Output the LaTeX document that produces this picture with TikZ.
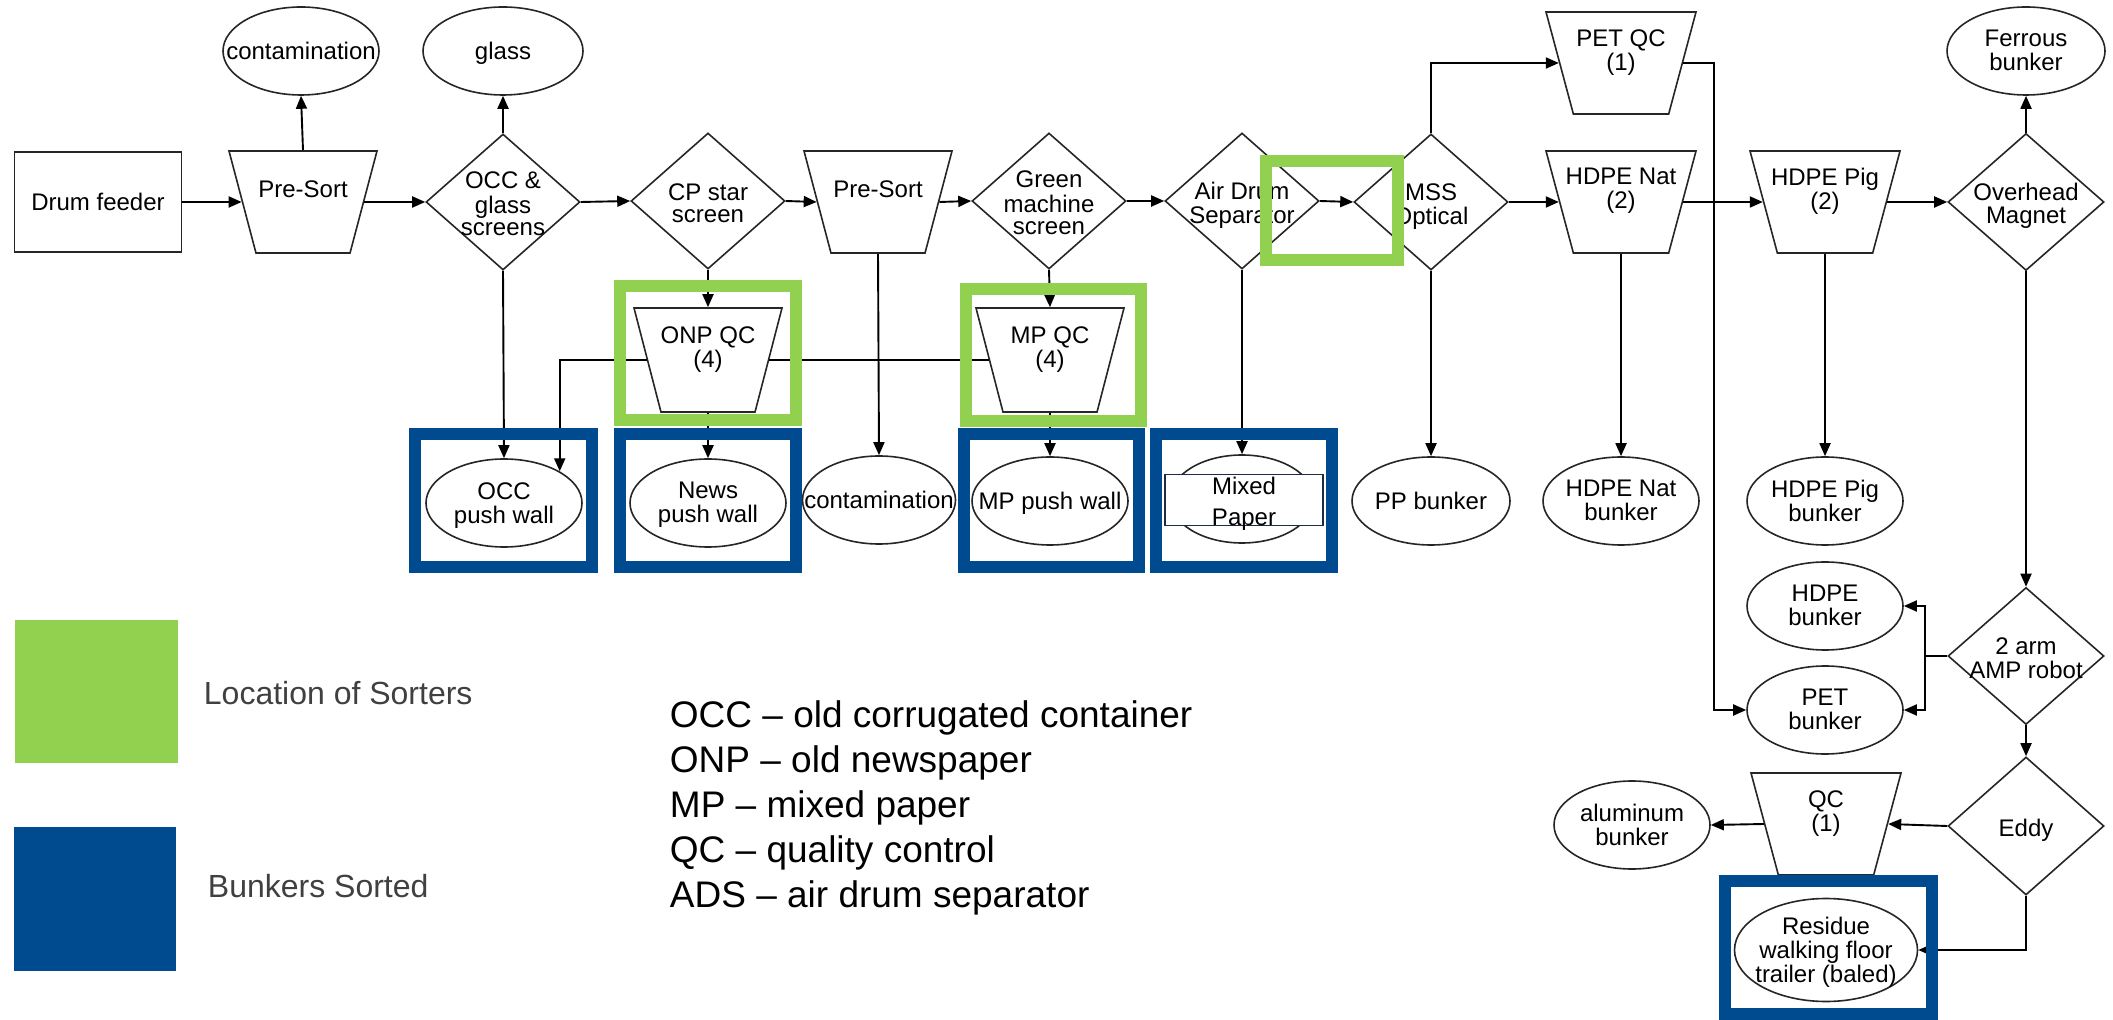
\documentclass[tikz,border=0pt]{standalone}
\usepackage{fontspec}
\setmainfont{Liberation Sans}
\usetikzlibrary{shapes.geometric, arrows.meta}
\definecolor{sortgreen}{HTML}{92D050}
\definecolor{bunkblue}{HTML}{004A90}
\definecolor{tagnavy}{HTML}{1F2A44}
\definecolor{inkgrey}{HTML}{404040}
\newcommand{\stacktext}[2][-4.5pt]{\makebox[0pt]{\raisebox{#1}[0pt][0pt]{\begin{tabular}{@{}c@{}}#2\end{tabular}}}}
\renewcommand{\arraystretch}{0.85}
\tikzset{
  >={Triangle[length=6.5pt,width=5.5pt]},
  every node/.style={font=\fontsize{12}{13}\selectfont, inner sep=0pt},
  base/.style={draw=black!85, line width=0.8pt, fill=white},
  feeder/.style={base, rectangle, minimum width=83.5pt, minimum height=50pt},
  hopper/.style={base, trapezium, trapezium left angle=74, trapezium right angle=74, inner sep=1pt,
    shape border rotate=180, trapezium stretches=true, minimum width=74pt, minimum height=51pt},
  screen/.style={base, diamond, minimum width=77pt, minimum height=68pt},
  bunker/.style={base, ellipse, minimum width=78pt, minimum height=44pt},
  sorters/.style={draw=sortgreen, line width=6pt, arrows=-},
  sorted/.style={draw=bunkblue, line width=6pt, arrows=-},
}

\begin{document}
\begin{tikzpicture}[x=0.5pt, y=-0.5pt, ->, line width=0.95pt]
  \useasboundingbox (0,0) rectangle (2113,1020);

  % main line
  \node[feeder] (feeder) at (98,202) {\stacktext{Drum feeder}};
  \node[hopper] (presortA) at (303,202) {\stacktext[2pt]{Pre-Sort}};
  \node[bunker] (contamA) at (301,51) {\stacktext{contamination}};
  \node[screen] (occ) at (503,202) {\stacktext[-5.5pt]{OCC \&\\glass\\screens}};
  \node[bunker, minimum width=80pt] (glass) at (503,51) {\stacktext{glass}};
  \node[screen] (cpstar) at (708,201) {\stacktext[-5.5pt]{CP star\\screen}};
  \node[hopper] (presortB) at (878,202) {\stacktext[2pt]{Pre-Sort}};
  \node[screen] (greenmc) at (1049,201) {\stacktext[-5.5pt]{Green\\machine\\screen}};
  \node[screen] (airdrum) at (1242,201) {\stacktext[-5.5pt]{Air Drum\\Separator}};
  \node[screen] (mss) at (1431,202) {\stacktext[-5.5pt]{MSS\\Optical}};
  \node[hopper, minimum width=75pt] (petqc) at (1621,63) {\stacktext[2pt]{PET QC\\(1)}};
  \node[hopper, minimum width=75pt] (hdpenat) at (1621,202) {\stacktext[2pt]{HDPE Nat\\(2)}};
  \node[hopper, minimum width=75pt] (hdpepig) at (1825,202) {\stacktext[2pt]{HDPE Pig\\(2)}};
  \node[screen, minimum width=78pt, minimum height=68.5pt] (magnet) at (2026,202) {\stacktext[-5.5pt]{Overhead\\Magnet}};
  \node[bunker, minimum width=79pt] (ferrous) at (2026,51) {\stacktext{Ferrous\\bunker}};

  % quality control
  \node[hopper, minimum height=52pt] (onpqc) at (708,360) {\stacktext[2pt]{ONP QC\\(4)}};
  \node[hopper, minimum height=52pt] (mpqc) at (1050,360) {\stacktext[2pt]{MP QC\\(4)}};

  % bunkers
  \node[bunker] (occwall) at (504,503) {\stacktext{OCC\\push wall}};
  \node[bunker] (newswall) at (708,503) {\stacktext{News\\push wall}};
  \node[bunker, minimum width=76.5pt] (contamB) at (879,500) {\stacktext{contamination}};
  \node[bunker] (mpwall) at (1050,501) {\stacktext{MP push wall}};
  \node[bunker, minimum width=72pt] (mixed) at (1242,499) {};
  \node[draw=tagnavy, line width=0.9pt, fill=white, minimum width=79pt, minimum height=25.5pt]
    (mixedtag) at (1244,500) {\stacktext[-5.5pt]{Mixed\\[4pt]Paper}};
  \node[bunker, minimum width=79pt] (ppb) at (1431,501) {\stacktext{PP bunker}};
  \node[bunker] (natb) at (1621,501) {\stacktext{HDPE Nat\\bunker}};
  \node[bunker] (pigb) at (1825,501) {\stacktext{HDPE Pig\\bunker}};
  \node[bunker] (hdpeb) at (1825,606) {\stacktext{HDPE\\bunker}};
  \node[bunker] (petb) at (1825,710) {\stacktext{PET\\bunker}};

  % metals and residue
  \node[screen, minimum width=78pt, minimum height=68.5pt] (robot) at (2026,656) {\stacktext[-5.5pt]{2 arm\\AMP robot}};
  \node[screen, minimum width=78pt, minimum height=69pt] (eddy) at (2026,826) {\stacktext[-5.5pt]{Eddy}};
  \node[hopper, minimum width=75pt] (qc) at (1826,824) {\stacktext[2pt]{QC\\(1)}};
  \node[bunker] (alu) at (1632,825) {\stacktext{aluminum\\bunker}};
  \node[bunker, minimum width=91.5pt, minimum height=51.5pt] (residue) at (1826,950)
    {\stacktext{Residue\\walking floor\\trailer (baled)}};

  \coordinate (petdrop) at (1714,710);
  \coordinate (rfork) at (1925,656);

  % flow
  \draw (feeder.east) -- (presortA.west);
  \draw (presortA.north) -- (contamA.south);
  \draw (presortA.east) -- (occ.west);
  \draw (occ.north) -- (glass.south);
  \draw (occ.east) -- (cpstar.west);
  \draw (cpstar.east) -- (presortB.west);
  \draw (presortB.east) -- (greenmc.west);
  \draw (greenmc.east) -- (airdrum.west);
  \draw (airdrum.east) -- (mss.west);
  \draw (mss.north) |- (petqc.west);
  \draw (mss.east) -- (hdpenat.west);
  \draw (hdpenat.east) -- (hdpepig.west);
  \draw (hdpepig.east) -- (magnet.west);
  \draw (magnet.north) -- (ferrous.south);

  \draw (occ.south) -- (occwall.north);
  \draw (cpstar.south) -- (onpqc.north);
  \draw (onpqc.south) -- (newswall.north);
  \draw (presortB.south) -- (contamB.north);
  \draw (greenmc.south) -- (mpqc.north);
  \draw (mpqc.south) -- (mpwall.north);
  \draw[-] (mpqc.west) -- (onpqc.east);
  \draw (onpqc.west) -| (occwall.north east);
  \draw (airdrum.south) -- (mixed.north);
  \draw (mss.south) -- (ppb.north);
  \draw (hdpenat.south) -- (natb.north);
  \draw (hdpepig.south) -- (pigb.north);
  \draw (petqc.east) -| (petdrop) -- (petb.west);

  \draw (magnet.south) -- (robot.north);
  \draw[-] (robot.west) -- (rfork);
  \draw (rfork) |- (hdpeb.east);
  \draw (rfork) |- (petb.east);
  \draw (robot.south) -- (eddy.north);
  \draw (eddy.west) -- (qc.east);
  \draw (qc.west) -- (alu.east);
  \draw (eddy.south) |- (residue.east);

  % sorter and bunker frames
  \draw[sorters] (620,286) rectangle (796,420);
  \draw[sorters] (966,289) rectangle (1141,421);
  \draw[sorters] (1266,161) rectangle (1398,260);
  \draw[sorted] (415,434) rectangle (592,567);
  \draw[sorted] (620,434) rectangle (796,567);
  \draw[sorted] (964,434) rectangle (1139,567);
  \draw[sorted] (1156,434) rectangle (1332,567);
  \draw[sorted] (1725,881) rectangle (1932,1014);

  % legend
  \fill[sortgreen] (15,620) rectangle (178,763);
  \fill[bunkblue] (14,827) rectangle (176,971);
  \node[anchor=west, text=inkgrey, font=\fontsize{16}{19}\selectfont] (keysorters) at (203,693) {Location of Sorters};
  \node[anchor=west, text=inkgrey, font=\fontsize{16}{19}\selectfont] (keysorted) at (207,886) {Bunkers Sorted};
  \node[anchor=west, align=left, font=\fontsize{18.5}{22.5}\selectfont] (abbrev) at (669,808)
    {OCC – old corrugated container\\ONP – old newspaper\\MP – mixed paper\\QC – quality control\\ADS – air drum separator};
\end{tikzpicture}
\end{document}
